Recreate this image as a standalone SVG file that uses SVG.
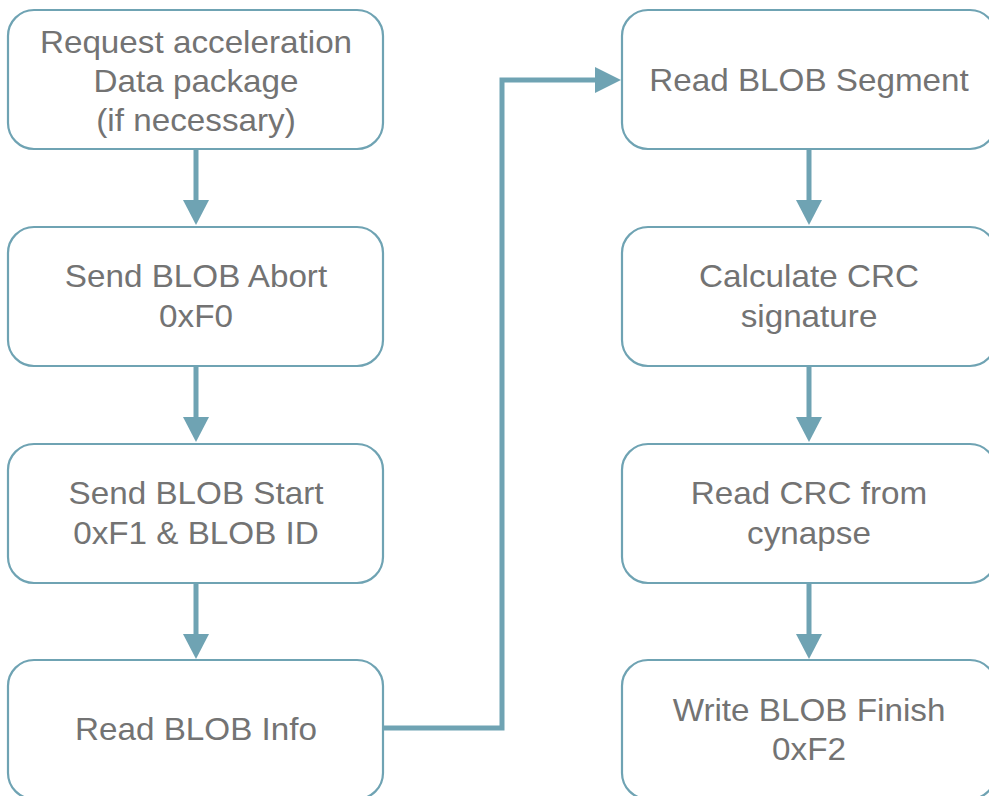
<svg xmlns="http://www.w3.org/2000/svg" width="989" height="796" viewBox="0 0 989 796">
<defs>
<style>
.box{fill:#fff;stroke:#6fa3b3;stroke-width:2.2}
.t{font-family:"Liberation Sans",Arial,sans-serif;font-size:30.5px;fill:#737373;text-anchor:middle}
.c{fill:none;stroke:#6fa3b3;stroke-width:5}
.h{fill:#6fa3b3}
</style>
</defs>
<rect width="989" height="796" fill="#fff"/>
<g id="connectors">
<path class="c" d="M196,149 V203"/>
<path class="h" d="M183,200 L209,200 L196,225 z"/>
<path class="c" d="M196,366 V420"/>
<path class="h" d="M183,417 L209,417 L196,442 z"/>
<path class="c" d="M196,583 V637"/>
<path class="h" d="M183,634 L209,634 L196,659 z"/>
<path class="c" d="M383,728 H502 V80 H598"/>
<path class="h" d="M595,67 L595,93 L621,80 z"/>
<path class="c" d="M809,149 V203"/>
<path class="h" d="M796,200 L822,200 L809,225 z"/>
<path class="c" d="M809,366 V420"/>
<path class="h" d="M796,417 L822,417 L809,442 z"/>
<path class="c" d="M809,583 V637"/>
<path class="h" d="M796,634 L822,634 L809,659 z"/>
</g>
<g id="n1"><rect class="box" x="8" y="10" width="375" height="139" rx="26"/>
<g transform="translate(196,0) scale(1.09,1)">
<text class="t" x="0" y="53">Request acceleration</text>
<text class="t" x="0" y="92">Data package</text>
<text class="t" x="0" y="131">(if necessary)</text></g></g>
<g id="n2"><rect class="box" x="8" y="227" width="375" height="139" rx="26"/>
<g transform="translate(196,0) scale(1.09,1)">
<text class="t" x="0" y="287">Send BLOB Abort</text>
<text class="t" x="0" y="327">0xF0</text></g></g>
<g id="n3"><rect class="box" x="8" y="444" width="375" height="139" rx="26"/>
<g transform="translate(196,0) scale(1.09,1)">
<text class="t" x="0" y="504">Send BLOB Start</text>
<text class="t" x="0" y="544">0xF1 &amp; BLOB ID</text></g></g>
<g id="n4"><rect class="box" x="8" y="660" width="375" height="139" rx="26"/>
<g transform="translate(196,0) scale(1.09,1)">
<text class="t" x="0" y="740">Read BLOB Info</text></g></g>
<g id="n5"><rect class="box" x="622" y="10" width="374" height="139" rx="26"/>
<g transform="translate(809,0) scale(1.09,1)">
<text class="t" x="0" y="91">Read BLOB Segment</text></g></g>
<g id="n6"><rect class="box" x="622" y="227" width="374" height="139" rx="26"/>
<g transform="translate(809,0) scale(1.09,1)">
<text class="t" x="0" y="287">Calculate CRC</text>
<text class="t" x="0" y="327">signature</text></g></g>
<g id="n7"><rect class="box" x="622" y="444" width="374" height="139" rx="26"/>
<g transform="translate(809,0) scale(1.09,1)">
<text class="t" x="0" y="504">Read CRC from</text>
<text class="t" x="0" y="544">cynapse</text></g></g>
<g id="n8"><rect class="box" x="622" y="660" width="374" height="139" rx="26"/>
<g transform="translate(809,0) scale(1.09,1)">
<text class="t" x="0" y="721">Write BLOB Finish</text>
<text class="t" x="0" y="760">0xF2</text></g></g>
</svg>
